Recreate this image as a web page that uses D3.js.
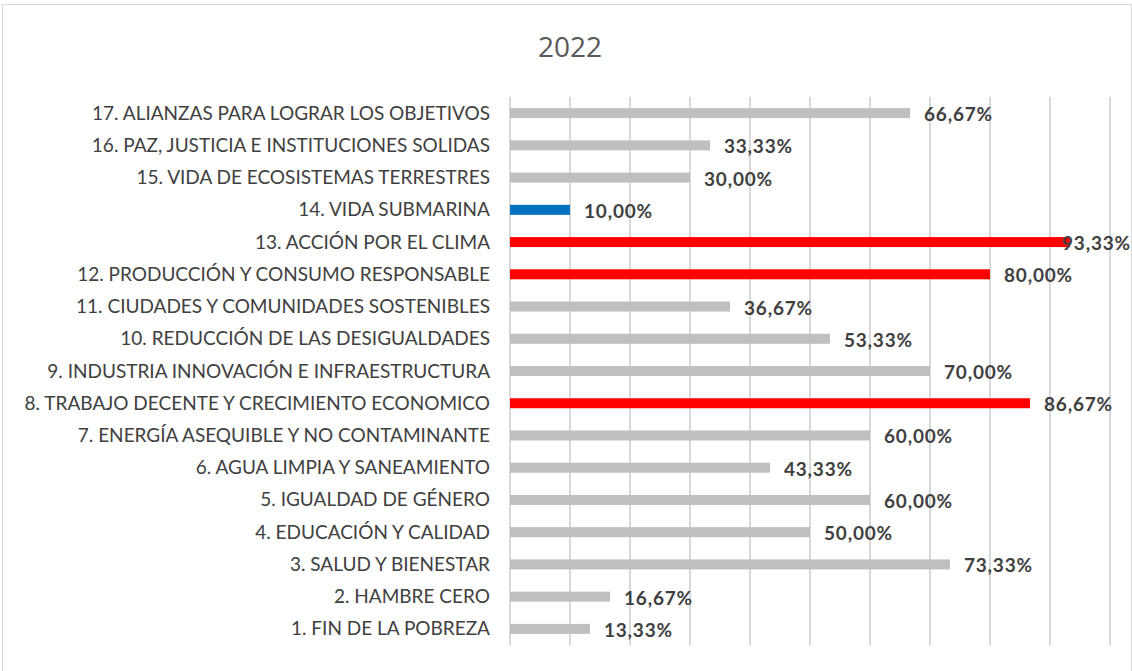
<!DOCTYPE html>
<html>
<head>
<meta charset="utf-8">
<script src="https://cdn.jsdelivr.net/npm/d3@7"></script>
<style>
  body { margin: 0; background: #fff; }
  svg text { font-family: Lato, "Open Sans", sans-serif; }
</style>
</head>
<body>
<div id="chart"></div>
<script>
// ODS labels, bottom (1) to top (17)
const categories = [
  "1. FIN DE LA POBREZA",
  "2. HAMBRE CERO",
  "3. SALUD Y BIENESTAR",
  "4. EDUCACIÓN Y CALIDAD",
  "5. IGUALDAD DE GÉNERO",
  "6. AGUA LIMPIA Y SANEAMIENTO",
  "7. ENERGÍA ASEQUIBLE Y NO CONTAMINANTE",
  "8. TRABAJO DECENTE Y CRECIMIENTO ECONOMICO",
  "9. INDUSTRIA INNOVACIÓN E INFRAESTRUCTURA",
  "10. REDUCCIÓN DE LAS DESIGUALDADES",
  "11. CIUDADES Y COMUNIDADES SOSTENIBLES",
  "12. PRODUCCIÓN Y CONSUMO RESPONSABLE",
  "13. ACCIÓN POR EL CLIMA",
  "14. VIDA SUBMARINA",
  "15. VIDA DE ECOSISTEMAS TERRESTRES",
  "16. PAZ, JUSTICIA E INSTITUCIONES SOLIDAS",
  "17. ALIANZAS PARA LOGRAR LOS OBJETIVOS"
];
const values = [13.33, 16.67, 73.33, 50.00, 60.00, 43.33, 60.00, 86.67, 70.00, 53.33, 36.67, 80.00, 93.33, 10.00, 30.00, 33.33, 66.67];
// highlight group per category
const groups = ["n","n","n","n","n","n","n","r","n","n","n","r","r","b","n","n","n"];
const xTicks = [0,10,20,30,40,50,60,70,80,90,100];

const colors = { n: "#BFBFBF", r: "#FF0000", b: "#0070C0" };

const width = 1132, height = 671;
const svg = d3.select("#chart").append("svg")
    .attr("width", width)
    .attr("height", height);

// chart frame
svg.append("rect")
    .attr("x", 2.5).attr("y", 4.5)
    .attr("width", width - 3).attr("height", height - 3)
    .attr("fill", "#fff")
    .attr("stroke", "#D9D9D9");

svg.append("text")
    .attr("x", 570).attr("y", 57)
    .attr("text-anchor", "middle")
    .attr("font-size", 28)
    .attr("fill", "#595959")
    .style("font-family", "'Open Sans', sans-serif")
    .text("2022");

let x = d3.scaleLinear().domain([0, 100]).range([510, 1110]);
let y = d3.scaleBand()
    .domain(categories.slice().reverse())
    .range([97, 645])
    .paddingInner(0).paddingOuter(0);

// vertical gridlines
svg.append("g")
    .selectAll("line")
    .data(xTicks)
    .enter()
    .append("line")
    .attr("x1", d => x(d)).attr("x2", d => x(d))
    .attr("y1", 97).attr("y2", 645)
    .attr("stroke", "#D9D9D9")
    .attr("stroke-width", 2);

// category labels
svg.append("g")
    .selectAll("text")
    .data(categories)
    .enter()
    .append("text")
    .attr("x", 490)
    .attr("y", d => y(d) + y.bandwidth() / 2 + 6.5)
    .attr("text-anchor", "end")
    .attr("font-size", 19)
    .attr("fill", "#404040")
    .text(d => d);

const barH = 10;
svg.append("g")
    .selectAll("rect")
    .data(categories)
    .enter()
    .append("rect")
    .attr("x", x(0))
    .attr("y", d => y(d) + y.bandwidth() / 2 - barH / 2)
    .attr("width", (d, i) => x(values[i]) - x(0))
    .attr("height", barH)
    .attr("fill", (d, i) => colors[groups[i]]);

// value labels (kept inside the chart frame like Excel does)
svg.append("g")
    .selectAll("text")
    .data(categories)
    .enter()
    .append("text")
    .attr("x", (d, i) => Math.min(x(values[i]) + 14, 1062))
    .attr("y", (d, i) => y(d) + y.bandwidth() / 2 + 8)
    .attr("font-size", 19)
    .attr("font-weight", "bold")
    .attr("letter-spacing", 0.8)
    .attr("fill", "#404040")
    .text((d, i) => values[i].toFixed(2).replace(".", ",") + "%");
</script>
</body>
</html>
